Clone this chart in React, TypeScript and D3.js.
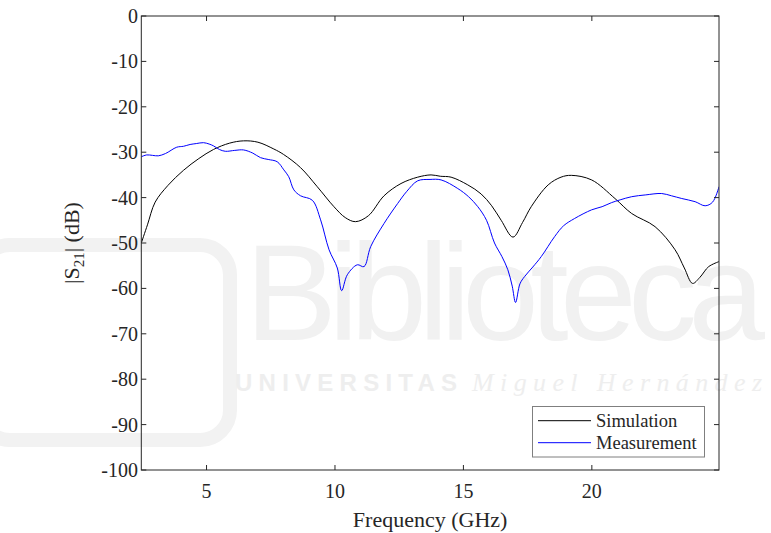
import React from "react";
import * as d3 from "d3";

// |S21| vs frequency
const simFreq = [2.46, 2.7, 3.0, 3.5, 4.1, 4.7, 5.27, 5.9, 6.44, 7.0, 7.62, 8.0, 8.66, 9.31, 9.96, 10.4, 10.8, 11.3, 11.91, 12.57, 13.22, 13.74, 14.1, 14.52, 15.17, 15.69, 16.1, 16.47, 16.93, 17.3, 17.64, 18.3, 18.8, 19.2, 19.99, 20.9, 21.55, 22.46, 23.24, 23.6, 23.92, 24.2, 24.55, 24.95];
const simS21 = [-50, -46, -41, -37.3, -34.0, -31.4, -29.4, -28.0, -27.5, -27.8, -29.3, -30.5, -33.4, -37.6, -42.0, -44.4, -45.3, -44.0, -39.6, -36.9, -35.5, -35.0, -35.3, -35.5, -37.2, -39.2, -41.8, -45.0, -48.7, -45.5, -42.0, -37.2, -35.5, -35.1, -36.1, -40.2, -43.5, -46.4, -51.5, -55.5, -58.9, -57.6, -55.2, -54.1];

const measFreq = [2.46, 2.67, 2.9, 3.12, 3.4, 3.84, 4.1, 4.36, 4.6, 4.88, 5.1, 5.27, 5.5, 5.73, 6.1, 6.44, 6.8, 7.1, 7.4, 7.75, 8.01, 8.2, 8.4, 8.66, 9.12, 9.44, 9.77, 10.09, 10.26, 10.48, 10.87, 11.13, 11.39, 11.91, 12.44, 12.8, 13.22, 13.7, 14.13, 14.78, 15.2, 15.56, 15.9, 16.21, 16.5, 16.73, 16.9, 17.03, 17.2, 17.38, 17.7, 18.03, 18.55, 18.9, 19.33, 19.99, 20.4, 20.77, 21.1, 21.55, 22.1, 22.72, 23.1, 23.5, 24.02, 24.41, 24.7, 24.95];
const measS21 = [-31.0, -30.6, -30.7, -30.8, -30.3, -28.9, -28.7, -28.3, -28.1, -27.9, -28.2, -28.6, -29.4, -29.8, -29.6, -29.5, -30.2, -31.2, -31.6, -32.1, -33.9, -35.4, -38.3, -39.6, -40.6, -44.9, -51.5, -55.5, -60.5, -57.0, -54.8, -55.2, -50.8, -45.7, -41.3, -38.6, -36.3, -36.0, -36.1, -38.0, -39.8, -42.0, -45.0, -50.0, -53.0, -55.9, -59.5, -63.1, -59.0, -57.4, -55.3, -53.0, -48.6, -46.2, -44.6, -42.7, -42.0, -41.1, -40.5, -39.8, -39.4, -39.1, -39.6, -40.2, -40.9, -41.8, -41.0, -37.6];

const xTicks = [5, 10, 15, 20];
const yTicks = [0, -10, -20, -30, -40, -50, -60, -70, -80, -90, -100];
const seriesNames = ["Simulation", "Measurement"];
const seriesColors = ["#000000", "#0000ff"];

const W = 771;
const H = 533;
const left = 141.3;
const right = 719;
const top = 16;
const bottom = 470;
const serif = "'Liberation Serif', 'Times New Roman', serif";
const sans = "'Liberation Sans', Arial, sans-serif";
const axisColor = "#262626";

export default function App() {
  const x = d3.scaleLinear().domain([2.46, 24.95]).range([left, right]);
  const y = d3.scaleLinear().domain([-100, 0]).range([bottom, top]);

  const line = d3
    .line<[number, number]>()
    .x(d => x(d[0]))
    .y(d => y(d[1]))
    .curve(d3.curveCatmullRom.alpha(0.5));

  const sim = simFreq.map((f, i) => [f, simS21[i]] as [number, number]);
  const meas = measFreq.map((f, i) => [f, measS21[i]] as [number, number]);
  const paths = [line(sim), line(meas)];

  const tick = 5;

  return (
    <div style={{ position: "fixed", left: 0, top: 0 }}>
      <svg width={W} height={H} style={{ display: "block", background: "#fff" }}>
        {/* faint library watermark behind the chart */}
        <g fill="#f1f1f1" stroke="none">
          <rect x={-20} y={245} width={250} height={195} rx={30} fill="none" stroke="#f2f2f2" strokeWidth={14} />
          <text x={245} y={340} fontFamily={sans} fontSize={138} textLength={520}>Biblioteca</text>
          <text x={235} y={391} fontFamily={sans} fontWeight="bold" fontSize={24} textLength={222} fill="#eeeeee">UNIVERSITAS</text>
          <text x={472} y={391} fontFamily={serif} fontStyle="italic" fontSize={26} textLength={290} fill="#eeeeee">Miguel Hernández</text>
        </g>

        <defs>
          <clipPath id="plot">
            <rect x={left} y={top} width={right - left} height={bottom - top} />
          </clipPath>
        </defs>

        <g clipPath="url(#plot)" fill="none" strokeWidth={1}>
          {paths.map((d, i) => (
            <path key={i} d={d || ""} stroke={seriesColors[i]} />
          ))}
        </g>

        {/* axes box and ticks */}
        <g stroke={axisColor} strokeWidth={1} fill="none">
          <rect x={left} y={top} width={right - left} height={bottom - top} />
          {xTicks.map(t => (
            <g key={t}>
              <line x1={x(t)} x2={x(t)} y1={bottom} y2={bottom - tick} />
              <line x1={x(t)} x2={x(t)} y1={top} y2={top + tick} />
            </g>
          ))}
          {yTicks.map(t => (
            <g key={t}>
              <line x1={left} x2={left + tick} y1={y(t)} y2={y(t)} />
              <line x1={right} x2={right - tick} y1={y(t)} y2={y(t)} />
            </g>
          ))}
        </g>

        <g fontFamily={serif} fontSize={20} fill={axisColor}>
          {xTicks.map(t => (
            <text key={t} x={x(t)} y={498} textAnchor="middle">{t}</text>
          ))}
          {yTicks.map(t => (
            <text key={t} x={138} y={y(t) + 7} textAnchor="end">{t}</text>
          ))}
        </g>

        <text x={(left + right) / 2} y={527} textAnchor="middle" fontFamily={serif} fontSize={22} fill={axisColor}>
          Frequency (GHz)
        </text>
        <text
          transform={`translate(79, ${(top + bottom) / 2}) rotate(-90)`}
          textAnchor="middle"
          fontFamily={serif}
          fontSize={22}
          fill={axisColor}
        >
          |S<tspan fontSize={15} dy={5}>21</tspan><tspan dy={-5}>| (dB)</tspan>
        </text>

        {/* legend */}
        <g fontFamily={serif} fontSize={18.5} fill={axisColor}>
          <rect x={532.5} y={406.5} width={172} height={50.5} fill="#fff" stroke="#7f7f7f" strokeWidth={1} />
          {seriesNames.map((n, i) => (
            <g key={n} transform={`translate(0, ${420.7 + i * 22})`}>
              <line x1={538} x2={591} y1={0} y2={0} stroke={seriesColors[i]} strokeWidth={1} />
              <text x={596} y={6.5}>{n}</text>
            </g>
          ))}
        </g>
      </svg>
    </div>
  );
}
